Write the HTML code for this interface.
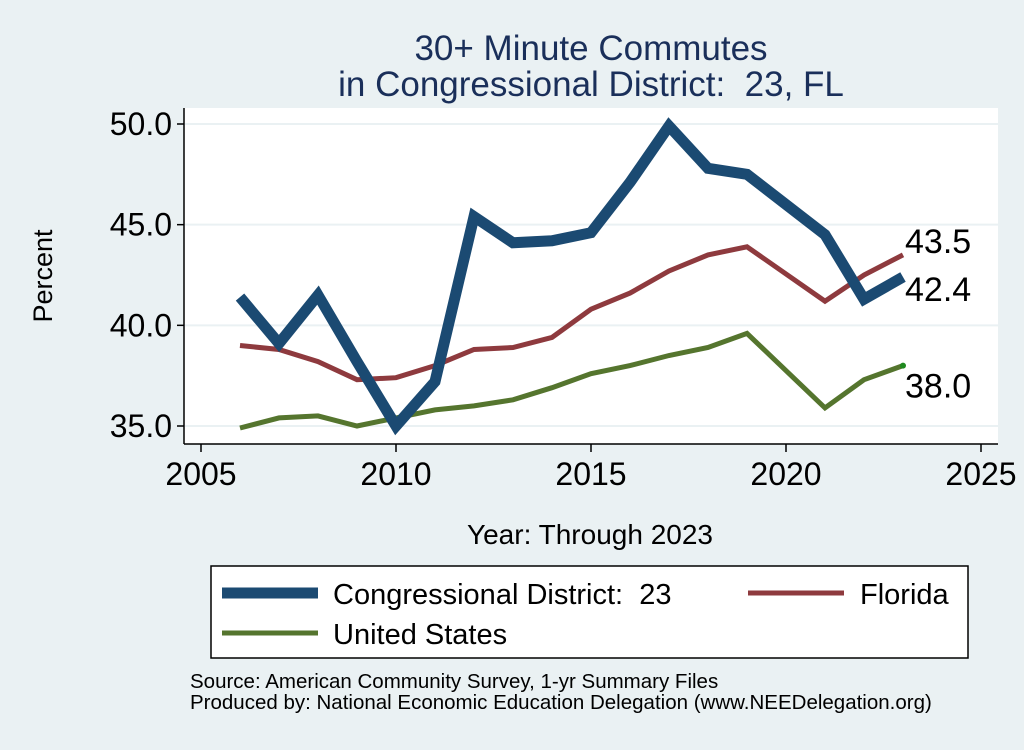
<!DOCTYPE html>
<html><head><meta charset="utf-8"><style>
body{margin:0;background:#eaf1f3;font-family:"Liberation Sans",Arial,sans-serif}
svg text{font-family:"Liberation Sans",Arial,sans-serif;white-space:pre}
</style></head><body>
<svg id="c" width="1024" height="745" viewBox="0 0 1024 745" xmlns="http://www.w3.org/2000/svg" xml:space="preserve">
<rect x="0" y="0" width="1024" height="745" fill="#eaf1f3"/>
<text x="591" y="60" font-size="35" fill="#1a2f5a" text-anchor="middle">30+ Minute Commutes</text>
<text x="591" y="96" font-size="35" fill="#1a2f5a" text-anchor="middle">in Congressional District:  23, FL</text>
<rect x="184" y="108" width="814" height="336" fill="#fff"/>
<g id="grid"></g>
<g id="axes"></g>
<g id="series"></g>
<text x="52" y="276" font-size="27" fill="#000" text-anchor="middle" transform="rotate(-90 52 276)">Percent</text>
<text x="590" y="544" font-size="28" fill="#000" text-anchor="middle">Year: Through 2023</text>
<g>
<rect x="211" y="566" width="757" height="92" fill="#fff" stroke="#000" stroke-width="1.5"/>
<line x1="222" y1="593" x2="318" y2="593" stroke="#1b4a72" stroke-width="11"/>
<text x="333" y="604" font-size="29">Congressional District:  23</text>
<line x1="748" y1="593" x2="844" y2="593" stroke="#8e3a3e" stroke-width="5"/>
<text x="860" y="604" font-size="29">Florida</text>
<line x1="222" y1="633" x2="318" y2="633" stroke="#55752e" stroke-width="5"/>
<text x="333" y="644" font-size="29">United States</text>
</g>
<text x="190" y="688" font-size="20.5">Source: American Community Survey, 1-yr Summary Files</text>
<text x="190" y="709" font-size="20.5">Produced by: National Economic Education Delegation (www.NEEDelegation.org)</text>
</svg>
<script>
const years=[2006,2007,2008,2009,2010,2011,2012,2013,2014,2015,2016,2017,2018,2019,2021,2022,2023];
const cd23=[41.4,39.1,41.5,38.2,35.0,37.2,45.4,44.1,44.2,44.6,47.1,49.9,47.8,47.5,44.5,41.3,42.4];
const florida=[39.0,38.8,38.2,37.3,37.4,38.0,38.8,38.9,39.4,40.8,41.6,42.7,43.5,43.9,41.2,42.5,43.5];
const us=[34.9,35.4,35.5,35.0,35.4,35.8,36.0,36.3,36.9,37.6,38.0,38.5,38.9,39.6,35.9,37.3,38.0];
const xTicks=[2005,2010,2015,2020,2025];
const yTicks=[35,40,45,50];
const yTickLabels=["35.0","40.0","45.0","50.0"];
const NS="http://www.w3.org/2000/svg";
const X=v=>201+(v-2005)*39;
const Y=v=>426-(v-35)*(302/15);
function mk(tag,attrs,parent,txt){const e=document.createElementNS(NS,tag);for(const k in attrs)e.setAttribute(k,attrs[k]);if(txt!==undefined)e.textContent=txt;document.getElementById(parent).appendChild(e);return e;}
yTicks.forEach((t,i)=>{
 const g=mk('line',{x1:185,x2:998,y1:Y(t),y2:Y(t),stroke:'#eaf1f3','stroke-width':2},'grid');
 
 
 const tk=mk('line',{x1:177,x2:184,y1:Y(t),y2:Y(t),stroke:'#000','stroke-width':1.5},'axes');
 
 
 const lb=mk('text',{x:172,y:Y(t)+11,'font-size':32,'text-anchor':'end'},'axes',yTickLabels[i]);
 
 
});
xTicks.forEach(t=>{
 const tk=mk('line',{x1:X(t),x2:X(t),y1:444,y2:452,stroke:'#000','stroke-width':1.5},'axes');
 
 
 const lb=mk('text',{x:X(t),y:485,'font-size':32,'text-anchor':'middle'},'axes',String(t));
 
 
});
const ya=mk('line',{x1:184,x2:184,y1:108,y2:444,stroke:'#000','stroke-width':1.5},'axes');


const xa=mk('line',{x1:184,x2:998,y1:444,y2:444,stroke:'#000','stroke-width':1.5},'axes');


function line(vals,color,w,name){
 const d=vals.map((v,i)=>(i?'L':'M')+X(years[i]).toFixed(1)+' '+Y(v).toFixed(1)).join(' ');
 const p=mk('path',{d:d,fill:'none',stroke:color,'stroke-width':w,'stroke-linejoin':'miter'},'series');
 
 
}
line(us,'#55752e',5,'us-line');
line(florida,'#8e3a3e',5,'florida-line');
line(cd23,'#1b4a72',11,'cd23-line');
const n=years.length-1;
const dot=mk('circle',{cx:X(years[n]),cy:Y(us[n]),r:3,fill:'#1f8a1f'},'series');


const labs=[[florida[n],-14,'florida-end-label'],[cd23[n],12,'cd23-end-label'],[us[n],20,'us-end-label']];
labs.forEach(a=>{
 const t=mk('text',{x:905,y:Y(a[0])+a[1]+12,'font-size':34},'series',a[0].toFixed(1));
 
 
});
</script>
</body></html>
